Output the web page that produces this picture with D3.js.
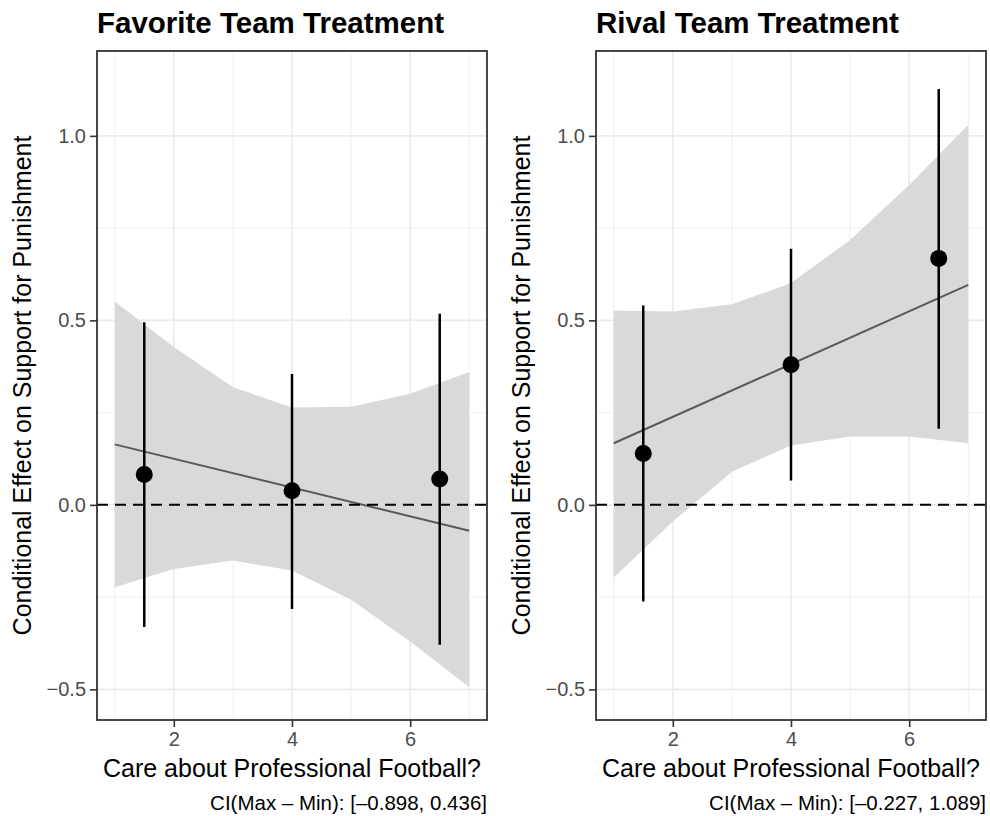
<!doctype html>
<html>
  <head>
    <meta charset="utf-8">
    <title>Conditional effects</title>
    <script src="https://cdnjs.cloudflare.com/ajax/libs/d3/7.8.5/d3.min.js"></script>
    <style>
      body { margin: 0; background: #fff; }
      text { font-family: "Liberation Sans", Arial, sans-serif; }
    </style>
  </head>
  <body>
    <div id="chart"></div>
    <script>
      // values
      const gridX = [1, 2, 3, 4, 5, 6, 7];
      const binX = [1.5, 4, 6.5];
      const lineX = [1, 7];

      const favUpper = [0.551, 0.428, 0.319, 0.264, 0.266, 0.301, 0.360];
      const favLower = [-0.223, -0.174, -0.151, -0.178, -0.257, -0.370, -0.494];
      const favLine = [0.164, -0.070];
      const favEst = [0.082, 0.038, 0.070];
      const favHi = [0.495, 0.355, 0.518];
      const favLo = [-0.331, -0.282, -0.379];

      const rivUpper = [0.527, 0.524, 0.544, 0.601, 0.718, 0.867, 1.030];
      const rivLower = [-0.197, -0.045, 0.090, 0.161, 0.185, 0.185, 0.167];
      const rivLine = [0.167, 0.596];
      const rivEst = [0.139, 0.380, 0.668];
      const rivHi = [0.540, 0.694, 1.127];
      const rivLo = [-0.262, 0.066, 0.206];

      const xTicks = [2, 4, 6];
      const xMinor = [1, 3, 5, 7];
      const yTicks = [-0.5, 0, 0.5, 1.0];
      const yMinor = [-0.25, 0.25, 0.75];

      const titles = ['Favorite Team Treatment', 'Rival Team Treatment'];
      const captions = ['CI(Max \u2013 Min): [\u20130.898, 0.436]', 'CI(Max \u2013 Min): [\u20130.227, 1.089]'];
      const xTitle = 'Care about Professional Football?';
      const yTitle = 'Conditional Effect on Support for Punishment';

      const svg = d3.select('#chart').append('svg')
        .attr('width', 990)
        .attr('height', 816);

      const plotTop = 51, plotBottom = 720;
      const y = d3.scaleLinear().domain([-0.583, 1.230]).range([plotBottom, plotTop]);
      const fmt = d => d3.format('.1f')(d).replace('-', '\u2212');

      function drawPanel(left, right, p) {
        const x = d3.scaleLinear().domain([0.7, 7.3]).range([left, right]);
        const g = svg.append('g');

        // grid
        g.selectAll('.ymin').data(yMinor).join('line')
          .attr('x1', left).attr('x2', right)
          .attr('y1', d => y(d)).attr('y2', d => y(d))
          .attr('stroke', '#EBEBEB').attr('stroke-width', 0.8);
        g.selectAll('.xmin').data(xMinor).join('line')
          .attr('y1', plotTop).attr('y2', plotBottom)
          .attr('x1', d => x(d)).attr('x2', d => x(d))
          .attr('stroke', '#EBEBEB').attr('stroke-width', 0.8);
        g.selectAll('.ymaj').data(yTicks).join('line')
          .attr('x1', left).attr('x2', right)
          .attr('y1', d => y(d)).attr('y2', d => y(d))
          .attr('stroke', '#EBEBEB').attr('stroke-width', 1.6);
        g.selectAll('.xmaj').data(xTicks).join('line')
          .attr('y1', plotTop).attr('y2', plotBottom)
          .attr('x1', d => x(d)).attr('x2', d => x(d))
          .attr('stroke', '#EBEBEB').attr('stroke-width', 1.6);

        // ribbon
        const band = gridX.map((v, i) => ({ x: v, lo: p.lower[i], hi: p.upper[i] }));
        g.append('path')
          .datum(band)
          .attr('fill', '#D9D9D9')
          .attr('d', d3.area().x(d => x(d.x)).y0(d => y(d.lo)).y1(d => y(d.hi)));

        // fitted line
        g.append('path')
          .datum(lineX.map((v, i) => [v, p.line[i]]))
          .attr('fill', 'none')
          .attr('stroke', '#595959')
          .attr('stroke-width', 2)
          .attr('d', d3.line().x(d => x(d[0])).y(d => y(d[1])));

        // zero line
        g.append('line')
          .attr('x1', left).attr('x2', right)
          .attr('y1', y(0)).attr('y2', y(0))
          .attr('stroke', '#000').attr('stroke-width', 2)
          .attr('stroke-dasharray', '11,7');

        // error bars and points
        const pts = binX.map((v, i) => ({ x: v, est: p.est[i], lo: p.lo[i], hi: p.hi[i] }));
        g.selectAll('.bar').data(pts).join('line')
          .attr('x1', d => x(d.x)).attr('x2', d => x(d.x))
          .attr('y1', d => y(d.lo)).attr('y2', d => y(d.hi))
          .attr('stroke', '#000').attr('stroke-width', 2.5);
        g.selectAll('.pt').data(pts).join('circle')
          .attr('cx', d => x(d.x)).attr('cy', d => y(d.est))
          .attr('r', 8.5).attr('fill', '#000');

        // border
        g.append('rect')
          .attr('x', left).attr('y', plotTop)
          .attr('width', right - left).attr('height', plotBottom - plotTop)
          .attr('fill', 'none').attr('stroke', '#333').attr('stroke-width', 1.8);

        // axes
        const ax = g.append('g').attr('transform', `translate(0,${plotBottom})`)
          .call(d3.axisBottom(x).tickValues(xTicks).tickFormat(d3.format('d')).tickSize(7).tickPadding(5));
        const ay = g.append('g').attr('transform', `translate(${left},0)`)
          .call(d3.axisLeft(y).tickValues(yTicks).tickFormat(fmt).tickSize(7).tickPadding(4));
        [ax, ay].forEach(a => {
          a.select('.domain').remove();
          a.selectAll('.tick line').attr('stroke', '#333').attr('stroke-width', 1.6);
          a.selectAll('.tick text').attr('fill', '#4D4D4D')
            .style('font-size', '20px').style('font-family', '"Liberation Sans", Arial, sans-serif');
        });

        // text
        g.append('text')
          .attr('x', left).attr('y', 33)
          .style('font-size', '29.5px').style('font-weight', 'bold')
          .text(p.title);
        g.append('text')
          .attr('x', (left + right) / 2).attr('y', 777)
          .attr('text-anchor', 'middle')
          .style('font-size', '25px')
          .text(xTitle);
        g.append('text')
          .attr('transform', `translate(${left - 75},${(plotTop + plotBottom) / 2}) rotate(-90)`)
          .attr('text-anchor', 'middle')
          .attr('dy', '0.35em')
          .style('font-size', '25px')
          .text(yTitle);
        g.append('text')
          .attr('x', right).attr('y', 810)
          .attr('text-anchor', 'end')
          .style('font-size', '20.5px')
          .text(p.caption);
      }

      drawPanel(97, 487, {
        upper: favUpper, lower: favLower, line: favLine,
        est: favEst, hi: favHi, lo: favLo,
        title: titles[0], caption: captions[0]
      });
      drawPanel(596, 986, {
        upper: rivUpper, lower: rivLower, line: rivLine,
        est: rivEst, hi: rivHi, lo: rivLo,
        title: titles[1], caption: captions[1]
      });
    </script>
  </body>
</html>
